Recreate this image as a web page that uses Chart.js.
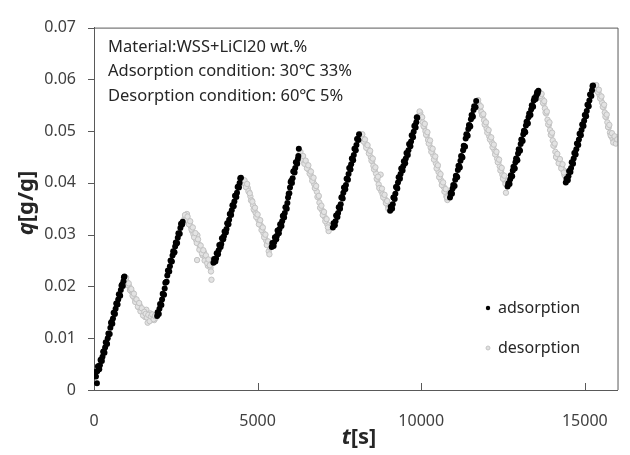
<!DOCTYPE html>
<html>
<head>
<meta charset="utf-8">
<script src="https://cdn.jsdelivr.net/npm/chart.js@4/dist/chart.umd.min.js"></script>
<style>
  body { margin: 0; background: #fff; }
  #wrap { width: 630px; height: 455px; }
</style>
</head>
<body>
<div id="wrap"><canvas id="chartCycles" width="630" height="455"></canvas></div>
<script>
// values: [t in s, q in g/g]
const adsorptionPoints = [
  [30,.0030],[60,.0026],[90,.0013],[100,.0036],[140,.0043],[180,.0048],[220,.0059],[260,.0064],[300,.0075],[340,.0082],
  [380,.0091],[420,.0100],[460,.0108],[500,.0120],[540,.0132],[580,.0138],[620,.0149],[660,.0157],[700,.0167],[740,.0175],
  [780,.0184],[820,.0193],[860,.0204],[900,.0210],[930,.0219],
  [45,.0035],[120,.0046],[160,.0040],[200,.0058],[240,.0056],[280,.0074],[320,.0072],[360,.0092],[400,.0089],[440,.0109],
  [480,.0108],[520,.0130],[560,.0128],[600,.0149],[640,.0147],[680,.0167],[720,.0165],[760,.0185],[800,.0182],[840,.0202],[880,.0201],[915,.0218],
  [1930,.0143],[1960,.0148],[2000,.0157],[2040,.0165],[2080,.0175],[2120,.0185],[2160,.0196],[2200,.0208],[2240,.0221],[2280,.0230],
  [2320,.0239],[2360,.0249],[2400,.0260],[2440,.0265],[2480,.0277],[2520,.0283],[2560,.0294],[2600,.0302],[2640,.0313],[2680,.0319],[2710,.0325],
  [1945,.0150],[1980,.0147],[2020,.0166],[2060,.0164],[2100,.0186],[2140,.0184],[2180,.0207],[2220,.0209],[2260,.0231],[2300,.0229],
  [2340,.0250],[2380,.0248],[2420,.0268],[2460,.0266],[2500,.0285],[2540,.0284],[2580,.0303],[2620,.0302],[2660,.0321],[2695,.0320],
  [3650,.0246],[3690,.0251],[3730,.0254],[3770,.0263],[3810,.0270],[3850,.0279],[3890,.0282],[3930,.0293],[3970,.0297],[4010,.0305],
  [4050,.0311],[4090,.0321],[4130,.0329],[4170,.0340],[4210,.0347],[4250,.0357],[4290,.0364],[4330,.0375],[4370,.0381],[4410,.0393],[4450,.0400],[4490,.0410],
  [3670,.0253],[3710,.0248],[3750,.0264],[3790,.0262],[3830,.0280],[3870,.0276],[3910,.0293],[3950,.0291],[3990,.0306],[4030,.0304],
  [4070,.0322],[4110,.0320],[4150,.0340],[4190,.0338],[4230,.0357],[4270,.0355],[4310,.0375],[4350,.0373],[4390,.0392],[4430,.0391],[4470,.0409],
  [5430,.0276],[5470,.0281],[5510,.0286],[5550,.0294],[5590,.0298],[5630,.0306],[5670,.0311],[5710,.0319],[5750,.0326],[5790,.0337],
  [5830,.0342],[5870,.0353],[5910,.0361],[5950,.0379],[5990,.0391],[6030,.0404],[6070,.0409],[6110,.0423],[6150,.0429],[6190,.0440],[6230,.0446],[6260,.0466],
  [5450,.0284],[5490,.0278],[5530,.0295],[5570,.0291],[5610,.0308],[5650,.0303],[5690,.0320],[5730,.0317],[5770,.0336],[5810,.0333],
  [5850,.0353],[5890,.0350],[5930,.0372],[5970,.0380],[6010,.0402],[6050,.0400],[6090,.0422],[6130,.0420],[6170,.0440],[6210,.0437],[6245,.0452],
  [7300,.0314],[7340,.0321],[7380,.0326],[7420,.0337],[7460,.0342],[7500,.0353],[7540,.0359],[7580,.0373],[7620,.0381],[7660,.0391],
  [7700,.0396],[7740,.0408],[7780,.0417],[7820,.0429],[7860,.0436],[7900,.0447],[7940,.0454],[7980,.0466],[8020,.0473],[8060,.0485],[8100,.0494],
  [7320,.0322],[7360,.0318],[7400,.0337],[7440,.0334],[7480,.0353],[7520,.0350],[7560,.0372],[7600,.0370],[7640,.0391],[7680,.0388],
  [7720,.0408],[7760,.0406],[7800,.0429],[7840,.0426],[7880,.0447],[7920,.0444],[7960,.0466],[8000,.0463],[8040,.0485],[8080,.0483],
  [9050,.0346],[9090,.0353],[9130,.0359],[9170,.0372],[9210,.0379],[9250,.0392],[9290,.0401],[9330,.0411],[9370,.0417],[9410,.0427],
  [9450,.0432],[9490,.0441],[9530,.0447],[9570,.0457],[9610,.0463],[9650,.0474],[9690,.0480],[9730,.0491],[9770,.0499],[9810,.0511],[9850,.0517],[9880,.0526],
  [9070,.0354],[9110,.0350],[9150,.0372],[9190,.0369],[9230,.0392],[9270,.0389],[9310,.0411],[9350,.0408],[9390,.0428],[9430,.0424],
  [9470,.0442],[9510,.0438],[9550,.0458],[9590,.0454],[9630,.0475],[9670,.0471],[9710,.0492],[9750,.0488],[9790,.0510],[9830,.0507],[9865,.0527],
  [10880,.0372],[10920,.0382],[10960,.0389],[11000,.0395],[11040,.0406],[11080,.0413],[11120,.0425],[11160,.0432],[11200,.0443],[11240,.0451],
  [11280,.0463],[11320,.0471],[11360,.0486],[11400,.0493],[11440,.0504],[11480,.0511],[11520,.0523],[11560,.0530],[11600,.0541],[11640,.0547],[11680,.0558],
  [10900,.0380],[10940,.0379],[10980,.0396],[11020,.0394],[11060,.0414],[11100,.0411],[11140,.0433],[11180,.0430],[11220,.0452],[11260,.0449],
  [11300,.0472],[11340,.0470],[11380,.0494],[11420,.0491],[11460,.0512],[11500,.0509],[11540,.0531],[11580,.0528],[11620,.0548],[11660,.0546],
  [12640,.0393],[12680,.0400],[12720,.0407],[12760,.0414],[12800,.0424],[12840,.0430],[12880,.0440],[12920,.0446],[12960,.0457],[13000,.0464],
  [13040,.0475],[13080,.0483],[13120,.0494],[13160,.0500],[13200,.0511],[13240,.0517],[13280,.0527],[13320,.0533],[13360,.0542],[13400,.0549],
  [13440,.0559],[13480,.0563],[13520,.0569],[13560,.0573],[13580,.0578],
  [12660,.0399],[12700,.0398],[12740,.0415],[12780,.0413],[12820,.0431],[12860,.0428],[12900,.0447],[12940,.0444],[12980,.0465],[13020,.0462],
  [13060,.0484],[13100,.0481],[13140,.0501],[13180,.0498],[13220,.0518],[13260,.0515],[13300,.0534],[13340,.0531],[13380,.0550],[13420,.0547],
  [13460,.0564],[13500,.0562],[13540,.0575],
  [14420,.0401],[14460,.0407],[14500,.0413],[14540,.0423],[14580,.0429],[14620,.0440],[14660,.0447],[14700,.0458],[14740,.0465],[14780,.0476],
  [14820,.0484],[14860,.0495],[14900,.0502],[14940,.0513],[14980,.0520],[15020,.0531],[15060,.0539],[15100,.0551],[15140,.0559],[15180,.0571],[15220,.0579],[15250,.0588],
  [14440,.0408],[14480,.0405],[14520,.0423],[14560,.0421],[14600,.0440],[14640,.0437],[14680,.0458],[14720,.0455],[14760,.0476],[14800,.0473],
  [14840,.0495],[14880,.0492],[14920,.0513],[14960,.0510],[15000,.0531],[15040,.0529],[15080,.0551],[15120,.0548],[15160,.0571],[15200,.0568],[15235,.0587]
];

const desorptionPoints = [
  [960,.0214],[1000,.0209],[1040,.0204],[1080,.0200],[1120,.0192],[1160,.0189],[1200,.0181],[1240,.0177],[1280,.0172],[1320,.0168],
  [1360,.0160],[1400,.0163],[1440,.0154],[1480,.0150],[1520,.0146],[1560,.0141],[1600,.0155],[1640,.0130],[1680,.0138],[1720,.0148],
  [1760,.0136],[1800,.0142],[1840,.0135],[1880,.0139],
  [980,.0217],[1020,.0203],[1060,.0206],[1100,.0193],[1140,.0195],[1180,.0182],[1220,.0186],[1260,.0170],[1300,.0175],[1340,.0161],
  [1380,.0168],[1420,.0152],[1460,.0158],[1500,.0144],[1540,.0151],[1580,.0147],[1620,.0140],[1660,.0145],[1700,.0133],[1740,.0142],
  [1780,.0146],[1820,.0137],[1860,.0143],
  [2760,.0330],[2800,.0334],[2840,.0340],[2880,.0328],[2920,.0322],[2960,.0316],[3000,.0307],[3040,.0301],[3080,.0296],[3120,.0290],
  [3150,.0251],[3160,.0299],[3200,.0282],[3240,.0275],[3280,.0270],[3320,.0260],[3360,.0266],[3400,.0256],[3440,.0252],[3480,.0240],
  [3520,.0246],[3560,.0236],[3590,.0213],
  [2780,.0338],[2820,.0327],[2860,.0335],[2900,.0320],[2940,.0326],[2980,.0310],[3020,.0314],[3060,.0295],[3100,.0303],[3140,.0284],
  [3180,.0291],[3220,.0271],[3260,.0279],[3300,.0264],[3340,.0270],[3380,.0250],[3420,.0260],[3460,.0245],[3500,.0252],[3540,.0241],[3575,.0229],
  [4540,.0406],[4580,.0402],[4620,.0398],[4660,.0393],[4700,.0390],[4740,.0382],[4780,.0374],[4820,.0366],[4860,.0357],[4900,.0347],
  [4940,.0342],[4980,.0335],[5020,.0329],[5060,.0322],[5100,.0318],[5140,.0310],[5180,.0303],[5220,.0296],[5260,.0289],[5300,.0282],
  [5340,.0268],[5380,.0275],
  [4560,.0400],[4600,.0405],[4640,.0392],[4680,.0398],[4720,.0384],[4760,.0380],[4800,.0366],[4840,.0364],[4880,.0349],[4920,.0352],
  [4960,.0334],[5000,.0339],[5040,.0320],[5080,.0328],[5120,.0309],[5160,.0314],[5200,.0295],[5240,.0300],[5280,.0280],[5320,.0287],[5360,.0262],
  [6290,.0455],[6330,.0451],[6370,.0449],[6410,.0444],[6450,.0440],[6490,.0436],[6530,.0432],[6570,.0425],[6610,.0418],[6650,.0412],
  [6690,.0405],[6730,.0398],[6770,.0390],[6810,.0383],[6850,.0372],[6890,.0362],[6930,.0352],[6970,.0347],[7010,.0340],[7050,.0334],
  [7090,.0328],[7130,.0320],[7170,.0307],
  [6310,.0460],[6350,.0445],[6390,.0452],[6430,.0437],[6470,.0443],[6510,.0428],[6550,.0434],[6590,.0418],[6630,.0422],[6670,.0404],
  [6710,.0410],[6750,.0390],[6790,.0394],[6830,.0373],[6870,.0375],[6910,.0352],[6950,.0356],[6990,.0338],[7030,.0344],[7070,.0326],[7110,.0330],[7150,.0314],
  [8140,.0494],[8180,.0491],[8220,.0486],[8260,.0480],[8300,.0475],[8340,.0470],[8380,.0465],[8420,.0458],[8460,.0450],[8500,.0442],
  [8540,.0433],[8580,.0425],[8620,.0418],[8660,.0406],[8700,.0397],[8740,.0390],[8760,.0416],[8780,.0384],[8820,.0378],[8860,.0373],
  [8900,.0368],[8940,.0362],[8980,.0356],[9010,.0352],
  [8160,.0488],[8200,.0494],[8240,.0480],[8280,.0484],[8320,.0468],[8360,.0473],[8400,.0457],[8440,.0462],[8480,.0443],[8520,.0447],
  [8560,.0426],[8600,.0430],[8640,.0408],[8680,.0412],[8720,.0390],[8800,.0389],[8840,.0372],[8880,.0377],[8920,.0361],[8960,.0365],[8995,.0350],
  [9930,.0530],[9970,.0536],[10010,.0526],[10050,.0517],[10090,.0508],[10130,.0500],[10170,.0492],[10210,.0483],[10250,.0476],[10290,.0468],
  [10330,.0461],[10370,.0454],[10410,.0446],[10450,.0438],[10490,.0430],[10530,.0421],[10570,.0413],[10610,.0405],[10650,.0397],[10690,.0392],
  [10730,.0385],[10770,.0374],[10800,.0367],
  [9950,.0538],[9990,.0530],[10030,.0527],[10070,.0510],[10110,.0514],[10150,.0493],[10190,.0498],[10230,.0476],[10270,.0482],[10310,.0460],
  [10350,.0466],[10390,.0445],[10430,.0451],[10470,.0428],[10510,.0434],[10550,.0411],[10590,.0417],[10630,.0396],[10670,.0401],[10710,.0383],
  [10750,.0388],[10790,.0372],
  [11720,.0556],[11760,.0552],[11800,.0545],[11840,.0537],[11880,.0530],[11920,.0521],[11960,.0512],[12000,.0505],[12040,.0498],[12080,.0490],
  [12120,.0484],[12160,.0478],[12200,.0470],[12240,.0463],[12280,.0456],[12320,.0447],[12360,.0440],[12400,.0432],[12440,.0424],[12480,.0416],
  [12520,.0410],[12560,.0404],[12590,.0381],
  [11740,.0560],[11780,.0546],[11820,.0548],[11860,.0531],[11900,.0533],[11940,.0513],[11980,.0517],[12020,.0497],[12060,.0502],[12100,.0484],
  [12140,.0488],[12180,.0469],[12220,.0474],[12260,.0455],[12300,.0460],[12340,.0440],[12380,.0445],[12420,.0424],[12460,.0429],[12500,.0408],
  [12540,.0414],[12575,.0398],
  [13620,.0575],[13660,.0570],[13700,.0562],[13740,.0553],[13780,.0544],[13820,.0534],[13860,.0522],[13900,.0512],[13940,.0502],[13980,.0492],
  [14020,.0482],[14060,.0472],[14100,.0460],[14140,.0452],[14180,.0446],[14220,.0440],[14260,.0436],[14300,.0430],[14340,.0425],[14380,.0415],
  [13640,.0568],[13680,.0572],[13720,.0555],[13760,.0558],[13800,.0536],[13840,.0538],[13880,.0513],[13920,.0517],[13960,.0493],[14000,.0497],
  [14040,.0472],[14080,.0476],[14120,.0450],[14160,.0456],[14200,.0438],[14240,.0446],[14280,.0428],[14320,.0436],[14360,.0420],
  [15290,.0588],[15330,.0586],[15370,.0582],[15410,.0576],[15450,.0570],[15490,.0563],[15530,.0555],[15570,.0546],[15610,.0536],[15650,.0527],
  [15690,.0517],[15730,.0507],[15770,.0497],[15810,.0490],[15850,.0485],[15890,.0480],[15930,.0483],[15970,.0479],[16000,.0488],
  [15310,.0582],[15350,.0589],[15390,.0576],[15430,.0580],[15470,.0563],[15510,.0567],[15550,.0547],[15590,.0551],[15630,.0528],[15670,.0532],
  [15710,.0508],[15750,.0512],[15790,.0492],[15830,.0496],[15870,.0478],[15910,.0490],[15950,.0476],[15990,.0484]
];

const seriesNames = ['adsorption', 'desorption'];
const xTicks = [0, 5000, 10000, 15000];
const yTicks = [0, 0.01, 0.02, 0.03, 0.04, 0.05, 0.06, 0.07];
const noteLines = [
  'Material:WSS+LiCl20 wt.%',
  'Adsorption condition: 30\u2103 33%',
  'Desorption condition: 60\u2103 5%'
];
const xMax = 16000;
const yMax = 0.07;

const axisColor = '#595959';
const textColor = '#404040';
const FONT = '"Noto Sans", "Open Sans", sans-serif';

// frame, tick marks, notes, legend and axis titles
const decorations = {
  id: 'decorations',
  afterDraw(chart) {
    const { ctx, chartArea: a, scales } = chart;
    ctx.save();
    ctx.strokeStyle = axisColor;
    ctx.lineWidth = 1;
    ctx.beginPath();
    ctx.moveTo(a.left, a.top + 0.5);
    ctx.lineTo(a.right + 0.5, a.top + 0.5);
    ctx.lineTo(a.right + 0.5, a.bottom);
    // y ticks point outwards
    scales.y.ticks.forEach(t => {
      const py = Math.round(scales.y.getPixelForValue(t.value)) + 0.5;
      ctx.moveTo(a.left - 6, py);
      ctx.lineTo(a.left, py);
    });
    // x ticks point inwards
    scales.x.ticks.forEach(t => {
      if (t.value === 0) return;
      const px = Math.round(scales.x.getPixelForValue(t.value)) + 0.5;
      ctx.moveTo(px, a.bottom);
      ctx.lineTo(px, a.bottom - 7);
    });
    ctx.stroke();

    // notes
    ctx.fillStyle = '#262626';
    ctx.font = '16.5px ' + FONT;
    ctx.textBaseline = 'middle';
    ctx.textAlign = 'left';
    noteLines.forEach((line, i) => ctx.fillText(line, 108, 47 + i * 24.5));

    // legend
    ctx.fillStyle = '#000';
    ctx.beginPath();
    ctx.arc(488, 308, 2.2, 0, Math.PI * 2);
    ctx.fill();
    ctx.fillStyle = '#e0e0e0';
    ctx.strokeStyle = '#c4c4c4';
    ctx.beginPath();
    ctx.arc(488, 348, 2, 0, Math.PI * 2);
    ctx.fill();
    ctx.stroke();
    ctx.fillStyle = '#262626';
    ctx.font = '16px ' + FONT;
    ctx.fillText(seriesNames[0], 498, 308);
    ctx.fillText(seriesNames[1], 498, 348);

    // axis titles: italic symbol + bold unit
    const drawTitle = (sym, unit, cx, cy, rot) => {
      ctx.save();
      ctx.translate(cx, cy);
      ctx.rotate(rot);
      ctx.font = 'italic bold 22px ' + FONT;
      const w1 = ctx.measureText(sym).width;
      ctx.font = 'bold 22px ' + FONT;
      const w2 = ctx.measureText(unit).width;
      const x0 = -(w1 + w2) / 2;
      ctx.textAlign = 'left';
      ctx.font = 'italic bold 22px ' + FONT;
      ctx.fillText(sym, x0, 0);
      ctx.font = 'bold 22px ' + FONT;
      ctx.fillText(unit, x0 + w1, 0);
      ctx.restore();
    };
    drawTitle('t', '[s]', 359, 438, 0);
    drawTitle('q', '[g/g]', 27, 203, -Math.PI / 2);
    ctx.restore();
  }
};

const configCycles = {
  type: 'scatter',
  data: {
    datasets: [
      {
        label: seriesNames[0],
        data: adsorptionPoints.map(([t, q]) => ({ x: t, y: q })),
        pointRadius: 3,
        pointBorderWidth: 0,
        backgroundColor: '#000000',
        borderColor: '#000000',
        order: 1
      },
      {
        label: seriesNames[1],
        data: desorptionPoints.map(([t, q]) => ({ x: t, y: q })),
        pointRadius: 2.7,
        pointBorderWidth: 1,
        backgroundColor: '#e3e3e3',
        borderColor: '#c2c2c2',
        order: 2
      }
    ]
  },
  options: {
    responsive: false,
    animation: false,
    layout: { padding: { top: 18, right: 4, left: 0, bottom: 0 } },
    plugins: {
      legend: { display: false },
      tooltip: { enabled: false }
    },
    scales: {
      x: {
        type: 'linear',
        min: 0,
        max: xMax,
        afterFit: s => { s.height = 65; },
        afterBuildTicks: s => { s.ticks = xTicks.map(v => ({ value: v })); },
        border: { display: true, color: axisColor, width: 1 },
        grid: { display: false, drawTicks: false },
        ticks: {
          autoSkip: false,
          padding: 22,
          color: textColor,
          font: { family: FONT, size: 16 },
          maxRotation: 0,
          callback: v => String(v)
        }
      },
      y: {
        min: 0,
        max: yMax,
        afterFit: s => { s.width = 94; },
        afterBuildTicks: s => { s.ticks = yTicks.map(v => ({ value: v })); },
        border: { display: true, color: axisColor, width: 1 },
        grid: { display: false, drawTicks: false },
        ticks: {
          autoSkip: false,
          padding: 18,
          color: textColor,
          font: { family: FONT, size: 16 },
          callback: v => String(v)
        }
      }
    }
  },
  plugins: [decorations]
};

var chartCycles = new Chart(document.getElementById('chartCycles'), configCycles);
</script>
</body>
</html>
